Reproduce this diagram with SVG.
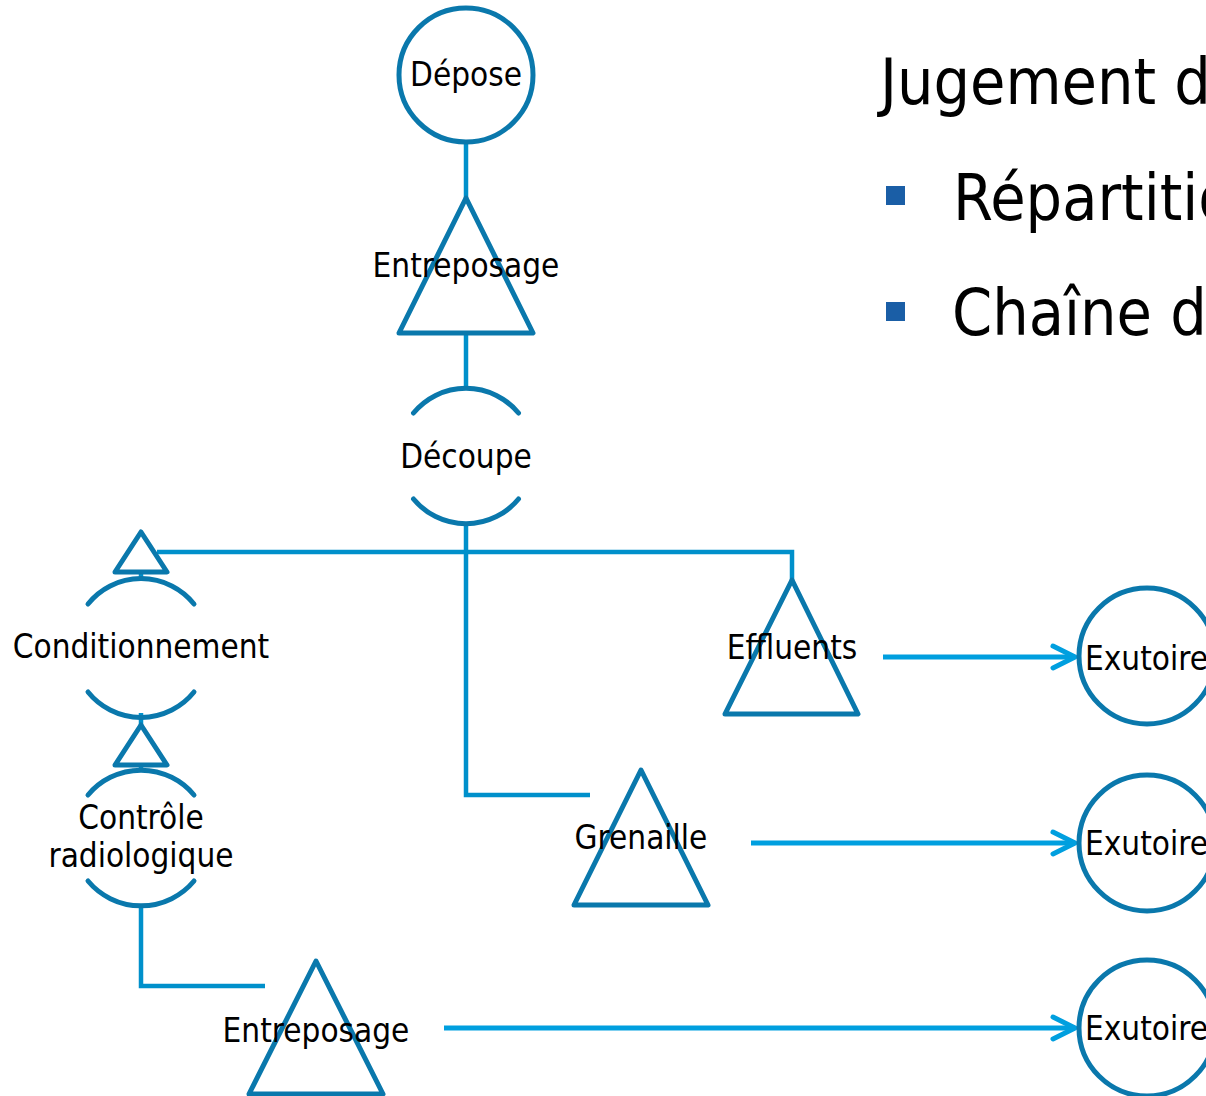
<svg xmlns="http://www.w3.org/2000/svg" width="1206" height="1096" viewBox="0 0 1206 1096">
<style>
.node{fill:none;stroke:#0A78AC;stroke-width:5;stroke-linejoin:round;stroke-linecap:round}
.conn{fill:none;stroke:#0090CB;stroke-width:4.5}
.arr{fill:none;stroke:#009FDF;stroke-width:5}
.lbl{font-family:"DejaVu Sans Condensed","DejaVu Sans",sans-serif;font-stretch:condensed;font-size:33px;fill:#000;text-anchor:middle}
.lblL{font-family:"DejaVu Sans Condensed","DejaVu Sans",sans-serif;font-stretch:condensed;font-size:33px;fill:#000}
.big{font-family:"DejaVu Sans Condensed","DejaVu Sans",sans-serif;font-stretch:condensed;font-size:64px;fill:#000}
</style>
<defs>
<marker id="chev" markerUnits="userSpaceOnUse" markerWidth="30" markerHeight="30" refX="24" refY="13" orient="auto" overflow="visible">
<path d="M2,2 L24,13 L2,24" fill="none" stroke="#009FDF" stroke-width="5" stroke-linecap="round" stroke-linejoin="round"/>
</marker>
</defs>
<rect width="1206" height="1096" fill="#fff"/>

<g id="connectors">
<line class="conn" x1="466" y1="142" x2="466" y2="198"/>
<line class="conn" x1="466" y1="333" x2="466" y2="388"/>
<line class="conn" x1="466" y1="525" x2="466" y2="552"/>
<polyline class="conn" points="157,552 792,552 792,580"/>
<polyline class="conn" points="466,552 466,795 590,795"/>
<line class="conn" x1="141" y1="572" x2="141" y2="578"/>
<line class="conn" x1="141" y1="713" x2="141" y2="725"/>
<line class="conn" x1="141" y1="765" x2="141" y2="769"/>
<polyline class="conn" points="141,907 141,986 265,986"/>
<line class="arr" x1="883" y1="657" x2="1075" y2="657" marker-end="url(#chev)"/>
<line class="arr" x1="751" y1="843" x2="1075" y2="843" marker-end="url(#chev)"/>
<line class="arr" x1="444" y1="1028" x2="1075" y2="1028" marker-end="url(#chev)"/>
</g>

<g id="depose">
<circle class="node" cx="466" cy="75" r="67"/>
<text class="lbl" x="466" y="86">Dépose</text>
</g>
<g id="entreposage1">
<polygon class="node" points="466,198 533,333 399,333"/>
<text class="lbl" x="466" y="277">Entreposage</text>
</g>
<g id="decoupe">
<path class="node" d="M413.5,413 A68,68 0 0 1 518.5,413"/>
<path class="node" d="M413.5,499 A68,68 0 0 0 518.5,499"/>
<text class="lbl" x="466" y="468">Découpe</text>
</g>
<g id="tri-small1">
<polygon class="node" points="141,532 167,572 115,572"/>
</g>
<g id="conditionnement">
<path class="node" d="M88,604 A68,68 0 0 1 194,604"/>
<path class="node" d="M88,692 A68,68 0 0 0 194,692"/>
<text class="lbl" x="141" y="658">Conditionnement</text>
</g>
<g id="tri-small2">
<polygon class="node" points="141,725 167,765 115,765"/>
</g>
<g id="controle">
<path class="node" d="M88,795 A69,69 0 0 1 194,795"/>
<path class="node" d="M88,881 A69,69 0 0 0 194,881"/>
<text class="lbl" x="141" y="829">Contrôle</text>
<text class="lbl" x="141" y="867">radiologique</text>
</g>
<g id="effluents">
<polygon class="node" points="792,580 858,714 725,714"/>
<text class="lbl" x="792" y="659">Effluents</text>
</g>
<g id="grenaille">
<polygon class="node" points="641,770 708,905 574,905"/>
<text class="lbl" x="641" y="849">Grenaille</text>
</g>
<g id="entreposage2">
<polygon class="node" points="316,961 383,1094 249,1094"/>
<text class="lbl" x="316" y="1042">Entreposage</text>
</g>
<g id="exutoire1">
<circle class="node" cx="1147" cy="656" r="68"/>
<text class="lblL" x="1085" y="670">Exutoire</text>
</g>
<g id="exutoire2">
<circle class="node" cx="1147" cy="843" r="68"/>
<text class="lblL" x="1085" y="855">Exutoire</text>
</g>
<g id="exutoire3">
<circle class="node" cx="1147" cy="1028" r="68"/>
<text class="lblL" x="1085" y="1040">Exutoire</text>
</g>

<g id="title">
<text class="big" x="880" y="104">Jugement d</text>
<rect x="886" y="186" width="19" height="19" fill="#1A5EA6"/>
<text class="big" x="953" y="220">Répartitio</text>
<rect x="886" y="302" width="19" height="19" fill="#1A5EA6"/>
<text class="big" x="952" y="335">Chaîne de</text>
</g>
</svg>
